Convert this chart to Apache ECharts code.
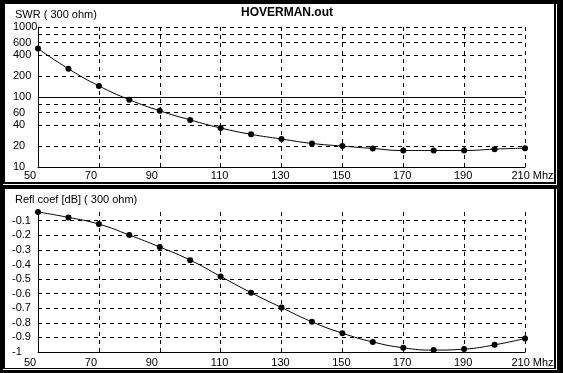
<!DOCTYPE html>
<html><head><meta charset="utf-8">
<script src="https://cdn.jsdelivr.net/npm/echarts@6/dist/echarts.min.js"></script>
<style>html,body{margin:0;padding:0;background:#000;}#c{width:563px;height:373px;}</style>
</head><body><div id="c"></div>
<script>
const freqs = [50,60,70,80,90,100,110,120,130,140,150,160,170,180,190,200,210];
const swr = [492,253,144,91.6,63.5,47.1,36.1,29.3,25.1,21.7,19.9,18.4,17.2,17.2,17.2,18.0,18.6];
const refl = [-0.04,-0.077,-0.123,-0.198,-0.28,-0.37,-0.482,-0.593,-0.695,-0.793,-0.871,-0.931,-0.971,-0.987,-0.98,-0.951,-0.907];
const xTicks = [50,70,90,110,130,150,170,190,210];
const swrGrid = [10,20,40,60,80,100,200,400,600,800,1000];
const swrLabels = [10,20,40,60,100,200,400,600,1000];
const reflTicks = [-1,-0.9,-0.8,-0.7,-0.6,-0.5,-0.4,-0.3,-0.2,-0.1];
const titleText = 'HOVERMAN.out';
const swrTitle = 'SWR ( 300 ohm)';
const reflTitle = 'Refl coef [dB] ( 300 ohm)';

const FONT = 'Liberation Sans, Arial, sans-serif';
const dashed = {show:true, lineStyle:{color:'#000', width:1, type:[4,4]}};
function xAxisDef(gi, margin){
  return {
    type:'value', gridIndex:gi, min:50, max:210,
    axisLine:{show:true, lineStyle:{color:'#000', width:1}},
    axisTick:{show:false, customValues:xTicks},
    splitLine:dashed,
    axisLabel:{customValues:xTicks, color:'#000', fontFamily:FONT, fontSize:11, margin:margin,
      formatter:function(v){ if(v===210) return '{e|210 Mhz}'; if(v<100) return '{s|'+v+'}'; return '{n|'+v+'}'; },
      rich:{ s:{padding:[0,16,0,0], fontFamily:FONT, fontSize:11, color:'#000'},
             n:{padding:[0,2,0,0], fontFamily:FONT, fontSize:11, color:'#000'},
             e:{padding:[0,0,0,15], fontFamily:FONT, fontSize:11, color:'#000'} }
    }
  };
}
const chart = echarts.init(document.getElementById('c'), null, {renderer:'canvas'});
chart.setOption({
  backgroundColor:'#000',
  animation:false,
  graphic:[
    {type:'rect', shape:{x:5,y:4,width:549,height:178}, style:{fill:'#fff'}, z:-10},
    {type:'rect', shape:{x:5,y:189,width:549,height:179}, style:{fill:'#fff'}, z:-10},
    {type:'rect', shape:{x:556,y:4,width:1,height:181}, style:{fill:'#fff'}, z:-10},
    {type:'rect', shape:{x:3,y:184,width:554,height:1}, style:{fill:'#fff'}, z:-10},
    {type:'rect', shape:{x:556,y:189,width:1,height:181}, style:{fill:'#fff'}, z:-10},
    {type:'rect', shape:{x:3,y:369,width:554,height:1}, style:{fill:'#fff'}, z:-10}
  ],
  title:[
    {text:titleText, left:241, top:7, padding:0, textStyle:{fontFamily:FONT, fontSize:12, fontWeight:'bold', color:'#000'}},
    {text:swrTitle, left:15, top:9, padding:0, textStyle:{fontFamily:FONT, fontSize:11, fontWeight:'normal', color:'#000'}},
    {text:reflTitle, left:15, top:194, padding:0, textStyle:{fontFamily:FONT, fontSize:11, fontWeight:'normal', color:'#000'}}
  ],
  grid:[
    {left:38, right:38, top:27, height:140},
    {left:38, right:38, top:212, height:140}
  ],
  xAxis:[xAxisDef(0,3), xAxisDef(1,5)],
  yAxis:[
    {type:'log', gridIndex:0, min:10, max:1000, logBase:10,
     axisLine:{show:true, lineStyle:{color:'#000', width:1}},
     axisTick:{show:false, customValues:swrGrid},
     splitLine:dashed,
     axisLabel:{customValues:swrLabels, color:'#000', fontFamily:FONT, fontSize:11, align:'left', margin:25,
       formatter:function(v){ return String(Math.round(v)); }}
    },
    {type:'value', gridIndex:1, min:-1, max:'dataMax',
     axisLine:{show:true, lineStyle:{color:'#000', width:1}},
     axisTick:{show:false, customValues:reflTicks},
     splitLine:dashed,
     axisLabel:{customValues:reflTicks, color:'#000', fontFamily:FONT, fontSize:11, align:'left', margin:26}
    }
  ],
  series:[
    {type:'line', xAxisIndex:0, yAxisIndex:0, data:freqs.map((f,i)=>[f,swr[i]]), smooth:true,
     symbol:'circle', symbolSize:6, itemStyle:{color:'#000'}, lineStyle:{color:'#000', width:1},
     markLine:{silent:true, symbol:'none', label:{show:false}, lineStyle:{color:'#000', width:1, type:'solid'}, data:[{yAxis:100}]}
    },
    {type:'line', xAxisIndex:1, yAxisIndex:1, data:freqs.map((f,i)=>[f,refl[i]]), smooth:true,
     symbol:'circle', symbolSize:6, itemStyle:{color:'#000'}, lineStyle:{color:'#000', width:1}}
  ]
});
</script></body></html>
